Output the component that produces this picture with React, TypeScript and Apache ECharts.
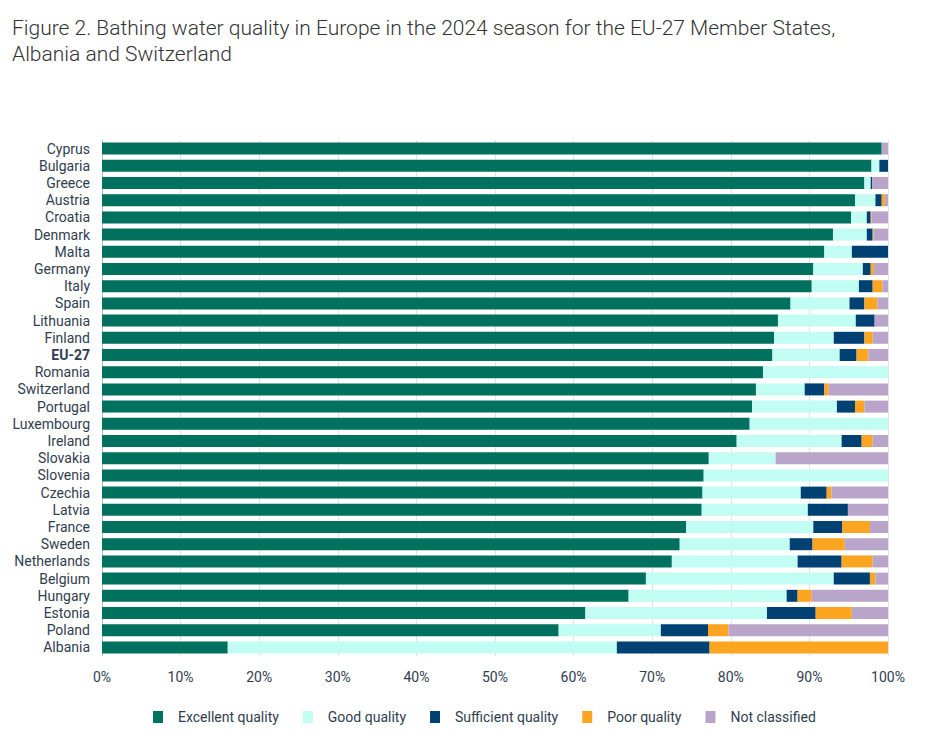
import React, { useEffect, useRef } from "react";
import * as echarts from "echarts";

const categories = [
  "Cyprus", "Bulgaria", "Greece", "Austria", "Croatia", "Denmark", "Malta", "Germany", "Italy", "Spain",
  "Lithuania", "Finland", "EU-27", "Romania", "Switzerland", "Portugal", "Luxembourg", "Ireland", "Slovakia", "Slovenia",
  "Czechia", "Latvia", "France", "Sweden", "Netherlands", "Belgium", "Hungary", "Estonia", "Poland", "Albania",
];

const excellent = [
  99.2, 97.9, 97.0, 95.8, 95.3, 93.0, 91.9, 90.5, 90.3, 87.6,
  86.0, 85.5, 85.3, 84.1, 83.2, 82.7, 82.4, 80.75, 77.2, 76.55,
  76.4, 76.3, 74.3, 73.5, 72.5, 69.2, 67.0, 61.5, 58.1, 16.0,
];
const good = [
  0, 1.0, 0.8, 2.6, 2.0, 4.3, 3.5, 6.3, 6.0, 7.5,
  9.9, 7.6, 8.55, 15.9, 6.2, 10.8, 17.6, 13.35, 8.5, 23.45,
  12.5, 13.5, 16.2, 14.0, 16.0, 23.9, 20.1, 23.1, 13.0, 49.5,
];
const sufficient = [
  0, 1.1, 0.2, 0.8, 0.5, 0.75, 4.6, 1.0, 1.75, 1.9,
  2.4, 3.9, 2.15, 0, 2.5, 2.3, 0, 2.55, 0, 0,
  3.3, 5.1, 3.7, 2.9, 5.6, 4.6, 1.4, 6.2, 6.0, 11.8,
];
const poor = [
  0, 0, 0, 0.4, 0.1, 0.1, 0, 0.4, 1.25, 1.65,
  0, 1.05, 1.5, 0, 0.55, 1.2, 0, 1.4, 0, 0,
  0.6, 0, 3.5, 4.1, 3.95, 0.7, 1.8, 4.6, 2.6, 22.7,
];
const notClassified = [
  0.8, 0, 2.0, 0.4, 2.1, 1.85, 0, 1.8, 0.7, 1.35,
  1.7, 1.95, 2.5, 0, 7.55, 3.0, 0, 1.95, 14.3, 0,
  7.2, 5.1, 2.3, 5.5, 1.95, 1.6, 9.7, 4.6, 20.3, 0,
];

const seriesNames = ["Excellent quality", "Good quality", "Sufficient quality", "Poor quality", "Not classified"];
const seriesColors = ["#00715e", "#c2fdf4", "#004174", "#fba521", "#b8a5c9"];
const xTicks = [0, 10, 20, 30, 40, 50, 60, 70, 80, 90, 100];

const titleLines = [
  "Figure 2. Bathing water quality in Europe in the 2024 season for the EU-27 Member States,",
  "Albania and Switzerland",
];

const FONT = "Roboto, 'Noto Sans', sans-serif";
const LABEL_COLOR = "#2f3d4f";

export default function App() {
  const ref = useRef<HTMLDivElement>(null);

  useEffect(() => {
    document.body.style.margin = "0";
    if (!ref.current) return;
    const chart = echarts.init(ref.current, null, { renderer: "svg" });
    const dataSets = [excellent, good, sufficient, poor, notClassified];
    const rev = <T,>(a: T[]) => a.slice().reverse();

    chart.setOption({
      animation: false,
      backgroundColor: "#ffffff",
      textStyle: { fontFamily: FONT },
      title: {
        text: titleLines.join("\n"),
        left: 7,
        top: 10,
        textStyle: {
          fontFamily: FONT,
          fontSize: 21,
          fontWeight: 300,
          color: "#333333",
          lineHeight: 26,
        },
      },
      legend: {
        data: seriesNames,
        left: 148,
        top: 705,
        itemWidth: 10,
        itemHeight: 12,
        itemGap: 24,
        icon: "rect",
        textStyle: {
          fontFamily: FONT,
          fontSize: 14,
          color: LABEL_COLOR,
          padding: [0, 0, 0, 10],
        },
      },
      grid: {
        left: 102,
        right: 38,
        top: 140,
        height: 516,
        containLabel: false,
      },
      xAxis: {
        type: "value",
        min: xTicks[0],
        max: xTicks[xTicks.length - 1],
        interval: 10,
        axisLine: { show: false },
        axisTick: { show: false },
        splitLine: { show: true, lineStyle: { color: "#e3e3e3", width: 1 } },
        axisLabel: {
          formatter: "{value}%",
          fontFamily: FONT,
          fontSize: 14,
          color: LABEL_COLOR,
          margin: 14,
        },
      },
      yAxis: {
        type: "category",
        data: rev(categories),
        axisLine: { show: true, lineStyle: { color: "#bdbdbd", width: 1 } },
        axisTick: { show: false },
        splitLine: { show: false },
        axisLabel: {
          interval: 0,
          fontFamily: FONT,
          fontSize: 14,
          color: LABEL_COLOR,
          margin: 12,
          formatter: (v: string) => (v === "EU-27" ? `{b|${v}}` : v),
          rich: {
            b: { fontFamily: FONT, fontSize: 14, fontWeight: "bold", color: LABEL_COLOR },
          },
        },
      },
      series: seriesNames.map((name, i) => ({
        name,
        type: "bar",
        stack: "total",
        barWidth: 12,
        data: rev(dataSets[i]),
        itemStyle: { color: seriesColors[i] },
        emphasis: { disabled: true },
      })),
    });

    return () => chart.dispose();
  }, []);

  return <div ref={ref} style={{ width: 926, height: 736 }} />;
}
